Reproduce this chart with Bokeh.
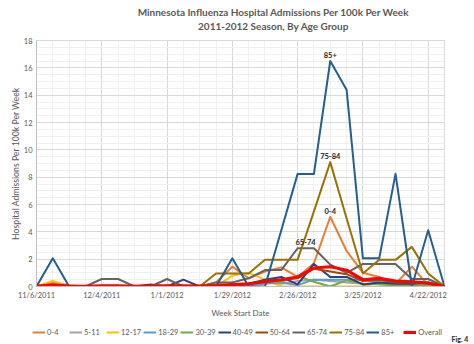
from bokeh.plotting import figure
from bokeh.layouts import column, row
from bokeh.models import (ColumnDataSource, FixedTicker, SingleIntervalTicker, Range1d,
                          Legend, LegendItem, Label, LabelSet)
from bokeh.embed import file_html
from bokeh.resources import INLINE
from bokeh.core.properties import value

weeks = ["11/6/2011", "11/13/2011", "11/20/2011", "11/27/2011", "12/4/2011", "12/11/2011",
         "12/18/2011", "12/25/2011", "1/1/2012", "1/8/2012", "1/15/2012", "1/22/2012",
         "1/29/2012", "2/5/2012", "2/12/2012", "2/19/2012", "2/26/2012", "3/4/2012",
         "3/11/2012", "3/18/2012", "3/25/2012", "4/1/2012", "4/8/2012", "4/15/2012",
         "4/22/2012", "4/29/2012"]

age_0_4   = [0, 0.3, 0.1, 0, 0, 0, 0, 0, 0, 0, 0, 0.3, 1.45, 0.6, 1.1, 1.4, 0.7, 1.7, 5.1, 2.6, 1.0, 0.7, 0.2, 1.45, 0.1, 0]
age_5_11  = [0, 0.1, 0, 0, 0, 0, 0, 0, 0, 0, 0, 0, 0.1, 0.2, 0.3, 0.2, 0.4, 0.5, 0.4, 0.3, 0.2, 0.2, 0.1, 0.1, 0, 0]
age_12_17 = [0, 0.4, 0, 0, 0, 0, 0, 0, 0, 0, 0, 0, 0.8, 1.0, 0.5, 0, 0, 0, 0, 0, 0, 0.3, 0, 0, 0, 0]
age_18_29 = [0, 0, 0, 0, 0, 0, 0, 0, 0, 0, 0, 0, 0.1, 0.1, 0.2, 0.3, 0.1, 0.5, 0.5, 0.5, 0.5, 0.3, 0.3, 0.1, 0.1, 0]
age_30_39 = [0, 0, 0, 0, 0, 0, 0, 0, 0, 0, 0, 0, 0, 0.2, 0.3, 0.35, 0.75, 0.35, 0.0, 0.45, 0.2, 0.15, 0.1, 0.1, 0.1, 0]
age_40_49 = [0, 0, 0, 0, 0, 0, 0, 0.15, 0, 0.5, 0, 0, 0, 0.2, 0.5, 0.7, 0.15, 1.65, 0.7, 0.7, 0.15, 0.3, 0.2, 0.2, 0.3, 0]
age_50_64 = [0, 0, 0, 0, 0, 0, 0, 0, 0, 0, 0, 0, 0.1, 0.2, 0.4, 0.5, 0.6, 1.3, 1.1, 0.9, 0.4, 0.5, 0.3, 0.3, 0.2, 0]
age_65_74 = [0, 0, 0, 0, 0.55, 0.55, 0, 0, 0.55, 0, 0, 0.3, 0.3, 0.6, 1.2, 1.2, 2.8, 2.8, 1.6, 1.0, 1.65, 1.65, 1.65, 0.55, 0.55, 0]
age_75_84 = [0, 0, 0, 0, 0, 0, 0, 0, 0, 0, 0, 0.95, 0.95, 0.95, 1.95, 1.95, 1.95, 5.5, 9.1, 5.0, 0.95, 1.95, 1.95, 2.9, 0.95, 0]
age_85    = [0, 2.06, 0, 0, 0, 0, 0, 0, 0, 0, 0, 0, 2.06, 0, 0, 4.12, 8.24, 8.24, 16.5, 14.4, 2.06, 2.06, 8.24, 0, 4.12, 0]
overall   = [0.02, 0.12, 0.03, 0.02, 0.05, 0.05, 0.02, 0.03, 0.05, 0.05, 0.03, 0.08, 0.15, 0.2, 0.35, 0.5, 0.7, 1.35, 1.45, 1.2, 0.5, 0.6, 0.4, 0.35, 0.25, 0]

series_names = ["0-4", "5-11", "12-17", "18-29", "30-39", "40-49", "50-64", "65-74", "75-84", "85+", "Overall"]
series_values = [age_0_4, age_5_11, age_12_17, age_18_29, age_30_39, age_40_49, age_50_64,
                 age_65_74, age_75_84, age_85, overall]
series_colors = ["#ED7D31", "#A5A5A5", "#FFC000", "#5B9BD5", "#70AD47", "#264478", "#9E480E",
                 "#636363", "#997300", "#255E91", "#FF0000"]
series_widths = [2, 2, 2, 2, 2, 2, 2, 2, 2, 2, 3]

title_lines = ["Minnesota Influenza Hospital Admissions Per 100k Per Week",
               "2011-2012 Season, By Age Group"]
fig_note = "Fig. 4"

# data labels: series name and week index of the labelled point
label_names = ["85+", "75-84", "0-4", "65-74"]
label_weeks = [18, 18, 18, 16]
label_xoff = [0, 0, 0, 8]

FONT = "Lato"
GRAY = "#595959"

x = list(range(len(weeks)))

# ---------------- title strip ----------------
tt = figure(width=474, height=34, output_backend="svg", toolbar_location=None,
            x_range=Range1d(0, 1), y_range=Range1d(0, 1), min_border=0,
            x_axis_location=None, y_axis_location=None, title=None)
tt.outline_line_color = None
tt.grid.visible = False
for i, t in enumerate(title_lines):
    tt.add_layout(Label(x=237, y=23 - 14 * i, x_units="screen", y_units="screen", text=t,
                        text_align="center", text_baseline="middle", text_font=FONT,
                        text_font_size="10px", text_font_style="bold", text_color=GRAY))

# ---------------- main chart ----------------
p = figure(width=474, height=286, output_backend="svg", toolbar_location=None,
           x_range=Range1d(0, len(weeks) - 1), y_range=Range1d(0, 18),
           min_border_left=36, min_border_right=30, min_border_top=6, min_border_bottom=30,
           title=None)
p.outline_line_color = "#D9D9D9"
p.background_fill_color = "white"
p.border_fill_color = "white"

for name, vals, col, w in zip(series_names, series_values, series_colors, series_widths):
    p.line(x, vals, line_color=col, line_width=w, line_join="round")

p.xaxis.ticker = FixedTicker(ticks=list(range(0, len(weeks), 4)), minor_ticks=x)
p.xaxis.major_label_overrides = {i: weeks[i] for i in range(0, len(weeks), 4)}
p.xaxis.axis_label = "Week Start Date"
p.yaxis.ticker = SingleIntervalTicker(interval=2, num_minor_ticks=4)
p.yaxis.axis_label = "Hospital Admissions Per 100k Per Week"
for ax in (p.xaxis, p.yaxis):
    ax.axis_line_color = "#BFBFBF"
    ax.major_tick_line_color = None
    ax.minor_tick_line_color = None
    ax.major_tick_out = 0
    ax.major_tick_in = 0
    ax.minor_tick_out = 0
    ax.minor_tick_in = 0
    ax.major_label_text_font = FONT
    ax.major_label_text_font_size = "7.5px"
    ax.major_label_text_color = GRAY
    ax.axis_label_text_font = FONT
    ax.axis_label_text_font_style = "normal"
    ax.axis_label_text_color = GRAY
    ax.major_label_standoff = 4
p.xaxis.axis_label_standoff = 5
p.yaxis.axis_label_standoff = 0
p.xaxis.axis_label_text_font_size = "8px"
p.yaxis.axis_label_text_font_size = "8.7px"

p.xgrid.grid_line_color = "#D9D9D9"
p.ygrid.grid_line_color = "#D9D9D9"
p.xgrid.minor_grid_line_color = "#F0F0F0"
p.ygrid.minor_grid_line_color = "#F0F0F0"

lab_src = ColumnDataSource(dict(
    x=label_weeks,
    y=[series_values[series_names.index(n)][w] for n, w in zip(label_names, label_weeks)],
    text=label_names,
    xoff=label_xoff,
))
p.add_layout(LabelSet(x="x", y="y", text="text", source=lab_src, x_offset="xoff", y_offset=3,
                      text_align="center", text_baseline="bottom", text_font=value(FONT),
                      text_font_size="7.5px", text_font_style="bold", text_color="#262626"))

# ---------------- legend strip ----------------
# pixel-like ranges for the note; the series are drawn on an off-screen range so only
# their legend swatches show
lg = figure(width=474, height=24, output_backend="svg", toolbar_location=None,
            x_range=Range1d(0, 474), y_range=Range1d(0, 24), min_border=0,
            x_axis_location=None, y_axis_location=None, title=None)
lg.extra_x_ranges = {"off": Range1d(-20, -19)}
lg.extra_y_ranges = {"off": Range1d(-20, -19)}
lg.outline_line_color = None
lg.grid.visible = False
lg.border_fill_color = "white"
lg.background_fill_color = "white"

items = []
for name, vals, col, w in zip(series_names, series_values, series_colors, series_widths):
    r = lg.line(x, vals, line_color=col, line_width=w, x_range_name="off", y_range_name="off")
    items.append(LegendItem(label=name, renderers=[r]))

legend = Legend(items=items, orientation="horizontal", location="center", glyph_width=13,
                glyph_height=10, label_height=10, label_standoff=2, spacing=2, padding=2, margin=0,
                label_text_font=FONT, label_text_font_size="7.5px", label_text_color=GRAY,
                border_line_color=None, background_fill_alpha=0)
lg.add_layout(legend, "center")

lg.text(x=[451], y=[6], text=[fig_note], text_font=value(FONT), text_font_size="7px",
        text_font_style="bold", text_color="#262626", text_baseline="middle", text_align="left")

layout = column(tt, p, row(lg), spacing=0)
open("out.html", "w").write(file_html(layout, INLINE))
